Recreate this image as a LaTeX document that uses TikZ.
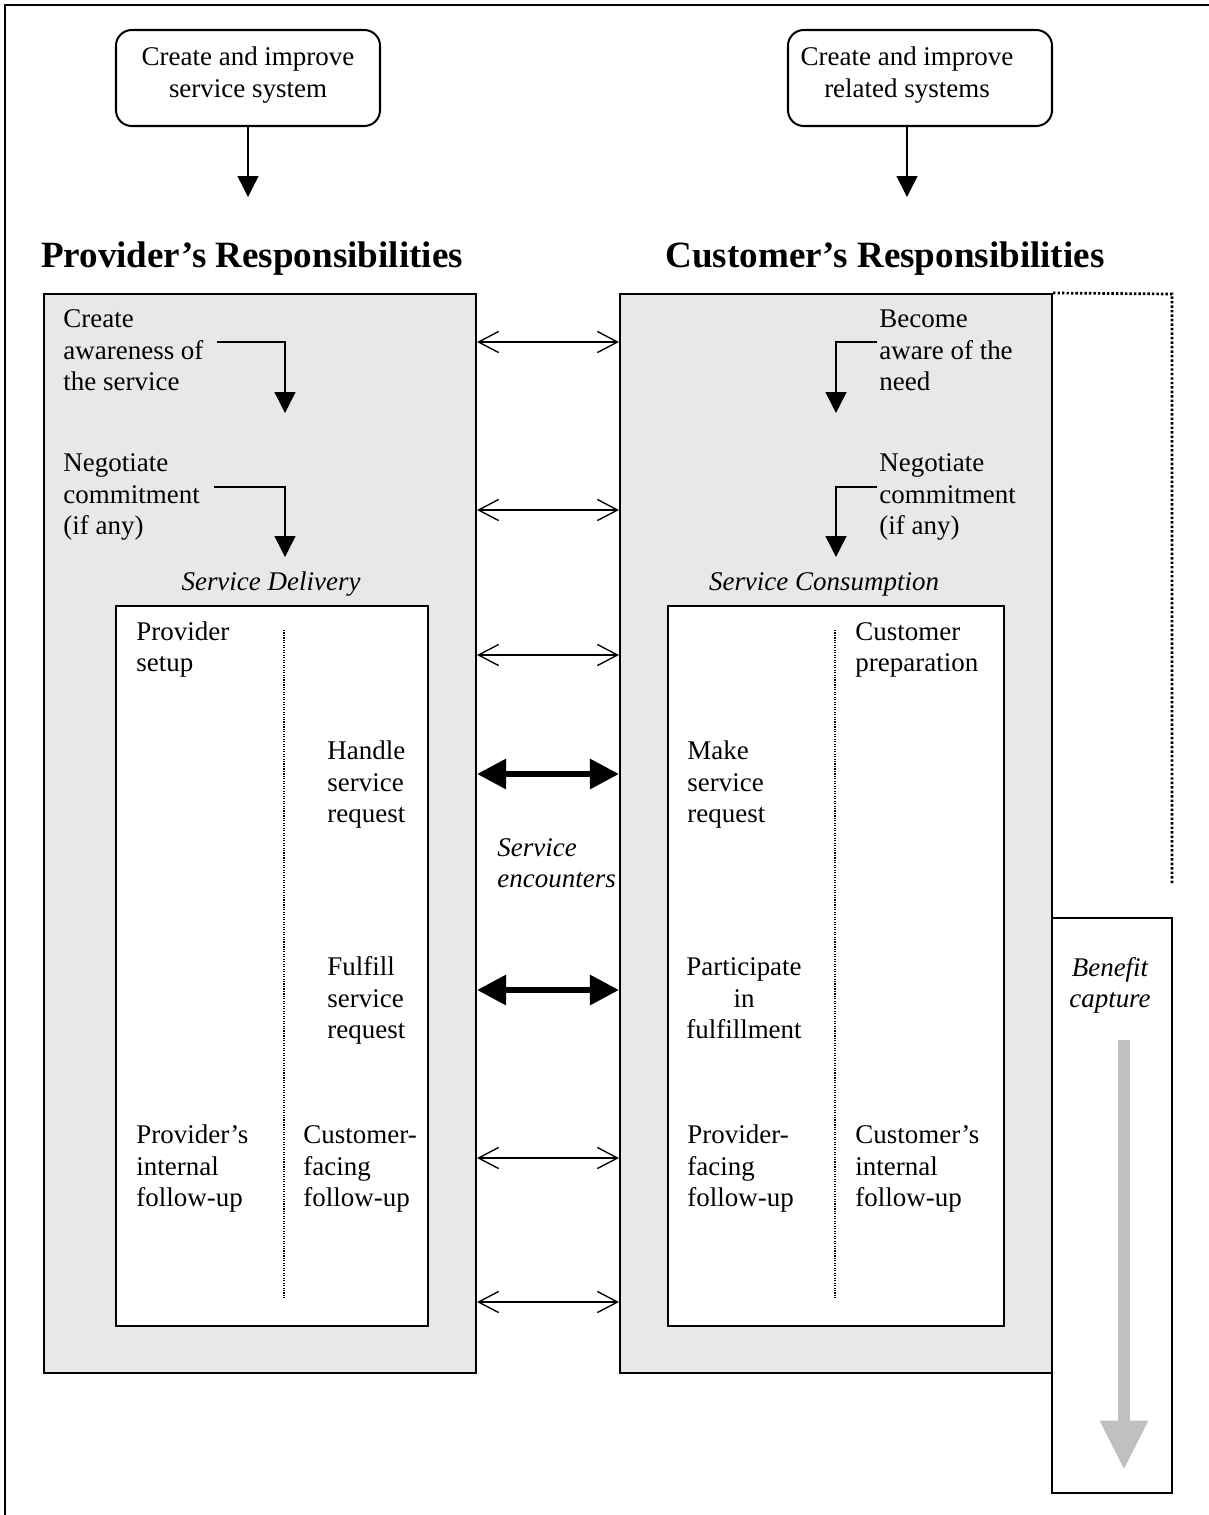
\documentclass[tikz,border=0pt]{standalone}
\usepackage{fontspec}
\setmainfont{Liberation Serif}
\usetikzlibrary{arrows.meta,fit}
\definecolor{boxgray}{RGB}{232,232,232}
\definecolor{arrowgray}{RGB}{192,192,192}

\begin{document}
\begin{tikzpicture}[x=0.445pt,y=-0.445pt,
  every node/.style={font=\fontsize{12}{13.8}\selectfont},
  txt/.style={align=left,inner sep=0pt,anchor=base west},
  ctxt/.style={align=center,inner sep=0pt,anchor=base},
  head/.style={ctxt,font=\bfseries\fontsize{16.5}{19}\selectfont},
  boxline/.style={inner sep=0pt,line width=0.9pt},
  sysbox/.style={boxline,draw,rounded corners=7pt},
  graybox/.style={boxline,draw,fill=boxgray},
  whitebox/.style={boxline,draw,fill=white,line width=1.3pt},
  down/.style={-{Triangle[length=9.3pt,width=9.3pt]},line width=0.6pt},
  thinlink/.style={{Straight Barb[length=9pt,width=9.4pt]}-{Straight Barb[length=9pt,width=9.4pt]},line width=0.6pt},
  thicklink/.style={{Triangle[length=13pt,width=13pt]}-{Triangle[length=13pt,width=13pt]},line width=2.7pt},
  finedots/.style={line width=0.5pt,dash pattern=on 0.5pt off 0.6pt},
  bigdots/.style={line width=1.2pt,line cap=butt,dash pattern=on 1.1pt off 0.9pt},
  benefit/.style={arrowgray,line width=5.5pt,-{Triangle[length=22pt,width=20pt]}}]

  \useasboundingbox (0,0) rectangle (1209,1515);

  % Page frame
  \draw[line width=0.9pt] (5,1515) -- (5,5) -- (1209,5);

  % System boxes (base = last line)
  \node[sysbox,fit={(116,30) (380,126)}] (psys) {};
  \node[ctxt] (psystxt) at (248,97) {Create and improve\\service system};
  \node[sysbox,fit={(788,30) (1052,126)}] (csys) {};
  \node[ctxt] (csystxt) at (907,97) {Create and improve\\related systems};
  \draw[down] (psystxt.center |- psys.south) -- (psystxt.center |- 0,197);
  \draw[down] (csystxt.center |- csys.south) -- (csystxt.center |- 0,197);

  % Headings
  \node[head] (phead) at (252,267) {Provider’s Responsibilities};
  \node[head] (chead) at (885,267) {Customer’s Responsibilities};

  % Gray boxes
  \node[graybox,fit={(44,294) (476,1373)}] (pbox) {};
  \node[graybox,fit={(620,294) (1052,1373)}] (cbox) {};

  % Provider side
  \node[txt] (paware) at (63,390) {Create\\awareness of\\the service};
  \node[txt] (pnegot) at (63,534) {Negotiate\\commitment\\(if any)};
  \draw[down] ([xshift=6pt]paware.east |- 0,342) -| (285,413);
  \draw[down] ([xshift=6pt]pnegot.east |- 0,487) -| (285,557);
  \node[ctxt,font=\itshape\fontsize{12}{13.8}\selectfont] (pdeliv) at (271,590) {Service Delivery};

  % Customer side
  \node[txt] (caware) at (879,390) {Become\\aware of the\\need};
  \node[txt] (cnegot) at (879,534) {Negotiate\\commitment\\(if any)};
  \draw[down] ([xshift=-1pt]caware.west |- 0,342) -| (836,413);
  \draw[down] ([xshift=-1pt]cnegot.west |- 0,487) -| (836,557);
  \node[ctxt,font=\itshape\fontsize{12}{13.8}\selectfont] (cconsum) at (824,590) {Service Consumption};

  % Inner boxes
  \node[whitebox,fit={(116,606) (428,1326)}] (pinner) {};
  \node[whitebox,fit={(668,606) (1004,1326)}] (cinner) {};
  \draw[finedots] (284,630) -- (284,1298);
  \draw[finedots] (835,630) -- (835,1298);

  \node[txt] (psetup) at (136,671) {Provider\\setup};
  \node[txt] (phandle) at (327,822) {Handle\\service\\request};
  \node[txt] (pfulfil) at (327,1038) {Fulfill\\service\\request};
  \node[txt] (pintern) at (136,1206) {Provider’s\\internal\\follow-up};
  \node[txt] (pfacing) at (303,1206) {Customer-\\facing\\follow-up};

  \node[txt] (cprep) at (855,671) {Customer\\preparation};
  \node[txt] (cmake) at (687,822) {Make\\service\\request};
  \node[ctxt] (cpartic) at (744,1038) {Participate\\in\\fulfillment};
  \node[txt] (cfacing) at (687,1206) {Provider-\\facing\\follow-up};
  \node[txt] (cintern) at (855,1206) {Customer’s\\internal\\follow-up};

  % Encounters
  \foreach \y in {342,510,655,1158,1302}
    \draw[thinlink] (pbox.east |- 0,\y) -- (cbox.west |- 0,\y);
  \foreach \y in {774,990}
    \draw[thicklink] (pbox.east |- 0,\y) -- (cbox.west |- 0,\y);
  \node[txt,font=\itshape\fontsize{12}{13.8}\selectfont] (encount) at (497,887) {Service\\encounters};

  % Benefit capture
  \draw[bigdots] (cbox.north east) -- (1172,294) -- (1172,885);
  \node[boxline,draw,fit={(1052,918) (1172,1493)}] (benbox) {};
  \node[ctxt,font=\itshape\fontsize{12}{13.8}\selectfont] (bentxt) at (1110,1007) {Benefit\\capture};
  \coordinate (bentop) at (1124,1040);
  \coordinate (benbot) at (1124,1470);
  \draw[benefit] (bentop) -- (benbot);

\end{tikzpicture}
\end{document}
